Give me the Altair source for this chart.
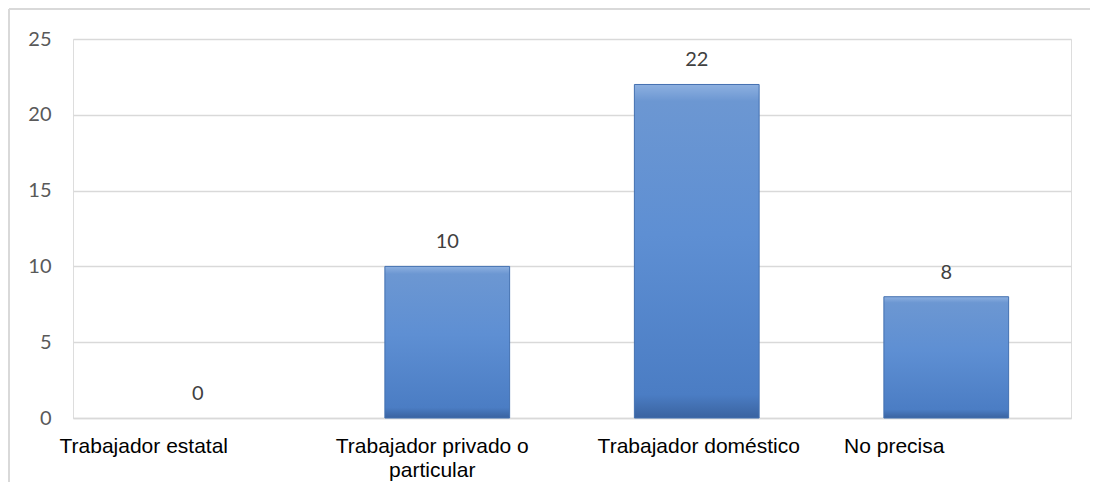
import altair as alt
import pandas as pd

categories = ["Trabajador estatal", "Trabajador privado o particular", "Trabajador doméstico", "No precisa"]
values = [0, 10, 22, 8]

df = pd.DataFrame({"cat": categories, "val": values})

label_offset = {
    "condition": [
        {"test": "datum.value == 'Trabajador estatal'", "value": -54},
        {"test": "datum.value == 'Trabajador privado o particular'", "value": -15},
        {"test": "datum.value == 'No precisa'", "value": -52},
    ],
    "value": 2,
}

x_enc = alt.X(
    "cat:N",
    sort=categories,
    scale=alt.Scale(paddingInner=0.5, paddingOuter=0.25),
    axis=alt.Axis(
        title=None,
        labelAngle=0,
        labelFont="Liberation Sans",
        labelFontSize=21,
        labelColor="#000000",
        labelPadding=17,
        labelLineHeight=24,
        labelLimit=0,
        labelOffset=label_offset,
        labelExpr="datum.value == 'Trabajador privado o particular' ? ['Trabajador privado o', 'particular'] : datum.value",
        ticks=False,
        domain=True,
        domainColor="#d9d9d9",
        domainWidth=1.5,
        grid=False,
    ),
)

y_enc = alt.Y(
    "val:Q",
    scale=alt.Scale(domain=[0, 25], nice=False),
    axis=alt.Axis(
        title=None,
        values=[0, 5, 10, 15, 20, 25],
        labelFont="Lato",
        labelFontSize=20,
        labelColor="#595959",
        labelPadding=22,
        ticks=False,
        domain=False,
        grid=True,
        gridColor="#d9d9d9",
        gridWidth=1.5,
    ),
)

grad = alt.Gradient(
    gradient="linear",
    x1=0, x2=0, y1=0, y2=1,
    stops=[
        alt.GradientStop(color="#8db0e0", offset=0),
        alt.GradientStop(color="#6c97d2", offset=0.05),
        alt.GradientStop(color="#5e8fd3", offset=0.45),
        alt.GradientStop(color="#4b7dc4", offset=0.93),
        alt.GradientStop(color="#3a63a0", offset=1),
    ],
)

base = alt.Chart(df)

bars = base.transform_filter("datum.val > 0").mark_bar(
    color=grad, stroke="#4370b0", strokeWidth=1
).encode(x=x_enc, y=y_enc)

labels = base.mark_text(
    font="Lato", fontSize=20, color="#404040", baseline="alphabetic", dy=-18
).encode(x=alt.X("cat:N", sort=categories), y=alt.Y("val:Q"), text=alt.Text("val:Q"))

frame = pd.DataFrame({"a": [0]})
top_line = alt.Chart(frame).mark_rule(color="#d9d9d9", strokeWidth=2).encode(
    x=alt.value(-64), x2=alt.value(1200), y=alt.value(-30)
)
left_line = alt.Chart(frame).mark_rule(color="#d9d9d9", strokeWidth=2).encode(
    x=alt.value(-64), y=alt.value(-30), y2=alt.value(600)
)

chart = (
    alt.layer(top_line, left_line, bars, labels)
    .properties(
        width=998,
        height=379,
        padding={"left": 65, "top": 31, "right": 19, "bottom": 64},
        autosize=alt.AutoSizeParams(type="none"),
    )
    .configure_view(stroke=None)
    .configure(background="white")
)

chart.save("out.html", embed_options={"renderer": "svg", "actions": False})
